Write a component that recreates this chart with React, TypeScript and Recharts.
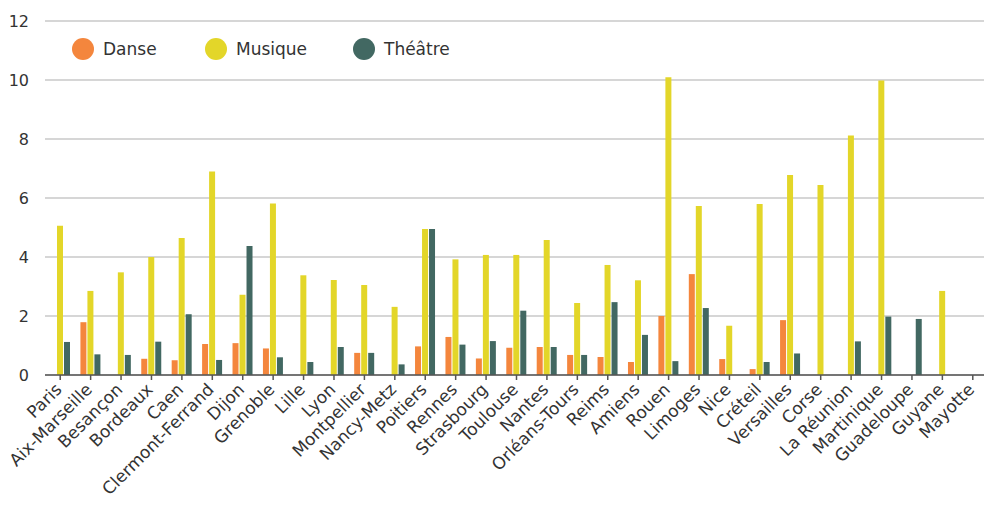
import React from 'react';
import { BarChart, Bar, XAxis, YAxis, CartesianGrid, Legend } from 'recharts';

const ACADEMIES = [
  'Paris', 'Aix-Marseille', 'Besançon', 'Bordeaux', 'Caen', 'Clermont-Ferrand', 'Dijon',
  'Grenoble', 'Lille', 'Lyon', 'Montpellier', 'Nancy-Metz', 'Poitiers', 'Rennes',
  'Strasbourg', 'Toulouse', 'Nantes', 'Orléans-Tours', 'Reims', 'Amiens', 'Rouen',
  'Limoges', 'Nice', 'Créteil', 'Versailles', 'Corse', 'La Réunion', 'Martinique',
  'Guadeloupe', 'Guyane', 'Mayotte',
];

const DANSE = [
  null, 1.79, null, 0.55, 0.5, 1.05, 1.08, 0.9, null, null, 0.75, null, 0.97, 1.29,
  0.56, 0.92, 0.95, 0.68, 0.61, 0.44, 2.0, 3.42, 0.54, 0.2, 1.86, null, null, null,
  null, null, null,
];

const MUSIQUE = [
  5.06, 2.85, 3.48, 4.0, 4.64, 6.9, 2.72, 5.81, 3.38, 3.22, 3.05, 2.31, 4.95, 3.92,
  4.07, 4.07, 4.58, 2.44, 3.73, 3.21, 10.09, 5.73, 1.67, 5.8, 6.78, 6.44, 8.12, 9.98,
  null, 2.85, null,
];

const THEATRE = [
  1.12, 0.7, 0.68, 1.13, 2.06, 0.51, 4.37, 0.6, 0.44, 0.95, 0.75, 0.36, 4.95, 1.03,
  1.15, 2.18, 0.95, 0.68, 2.47, 1.36, 0.47, 2.27, null, 0.44, 0.73, null, 1.14, 1.98,
  1.9, null, null,
];

const Y_TICKS = [0, 2, 4, 6, 8, 10, 12];

const SERIES = [
  { key: 'danse', name: 'Danse', color: '#f4863d' },
  { key: 'musique', name: 'Musique', color: '#e3d629' },
  { key: 'theatre', name: 'Théâtre', color: '#426862' },
];

const data = ACADEMIES.map((name, i) => ({
  name,
  danse: DANSE[i],
  musique: MUSIQUE[i],
  theatre: THEATRE[i],
}));

const FONT = '"DejaVu Sans", sans-serif';
const TEXT = '#333333';

function LegendContent() {
  const offsets = [0, 133, 281];
  return (
    <div style={{ position: 'relative', height: 24, width: 420, fontFamily: FONT }}>
      {SERIES.map((s, i) => (
        <div
          key={s.key}
          style={{ position: 'absolute', left: offsets[i], top: 0, display: 'flex', alignItems: 'center' }}
        >
          <span
            style={{ width: 22, height: 22, borderRadius: '50%', background: s.color, display: 'inline-block' }}
          />
          <span style={{ marginLeft: 9, fontSize: 17, color: TEXT }}>{s.name}</span>
        </div>
      ))}
    </div>
  );
}

export default function App() {
  return (
    <div style={{ position: 'absolute', left: 0, top: 0, background: '#fff', overflow: 'hidden', width: 984, height: 508 }}>
      <BarChart
        width={988}
        height={508}
        data={data}
        margin={{ top: 21, right: 0, bottom: 0, left: 0 }}
        barCategoryGap={5}
        barGap={1}
      >
        <CartesianGrid vertical={false} stroke="#c8c8c8" strokeWidth={1.5} />
        <YAxis
          width={45}
          domain={[0, 12]}
          ticks={Y_TICKS}
          axisLine={false}
          tickLine={false}
          tickSize={0}
          tickMargin={16}
          tick={{ fill: TEXT, fontSize: 16, fontFamily: FONT }}
        />
        <XAxis
          dataKey="name"
          interval={0}
          height={133}
          axisLine={{ stroke: '#555', strokeWidth: 1.5 }}
          tickLine={{ stroke: '#555', strokeWidth: 1.5 }}
          tickSize={5}
          angle={-45}
          textAnchor="end"
          dx={-6}
          tick={{ fill: TEXT, fontSize: 17, fontFamily: FONT }}
        />
        <Legend
          layout="horizontal"
          verticalAlign="middle"
          content={<LegendContent />}
          wrapperStyle={{ top: 38, left: 72, width: 420 }}
        />
        {SERIES.map((s) => (
          <Bar
            key={s.key}
            dataKey={s.key}
            name={s.name}
            fill={s.color}
            barSize={6}
            isAnimationActive={false}
          />
        ))}
      </BarChart>
    </div>
  );
}
